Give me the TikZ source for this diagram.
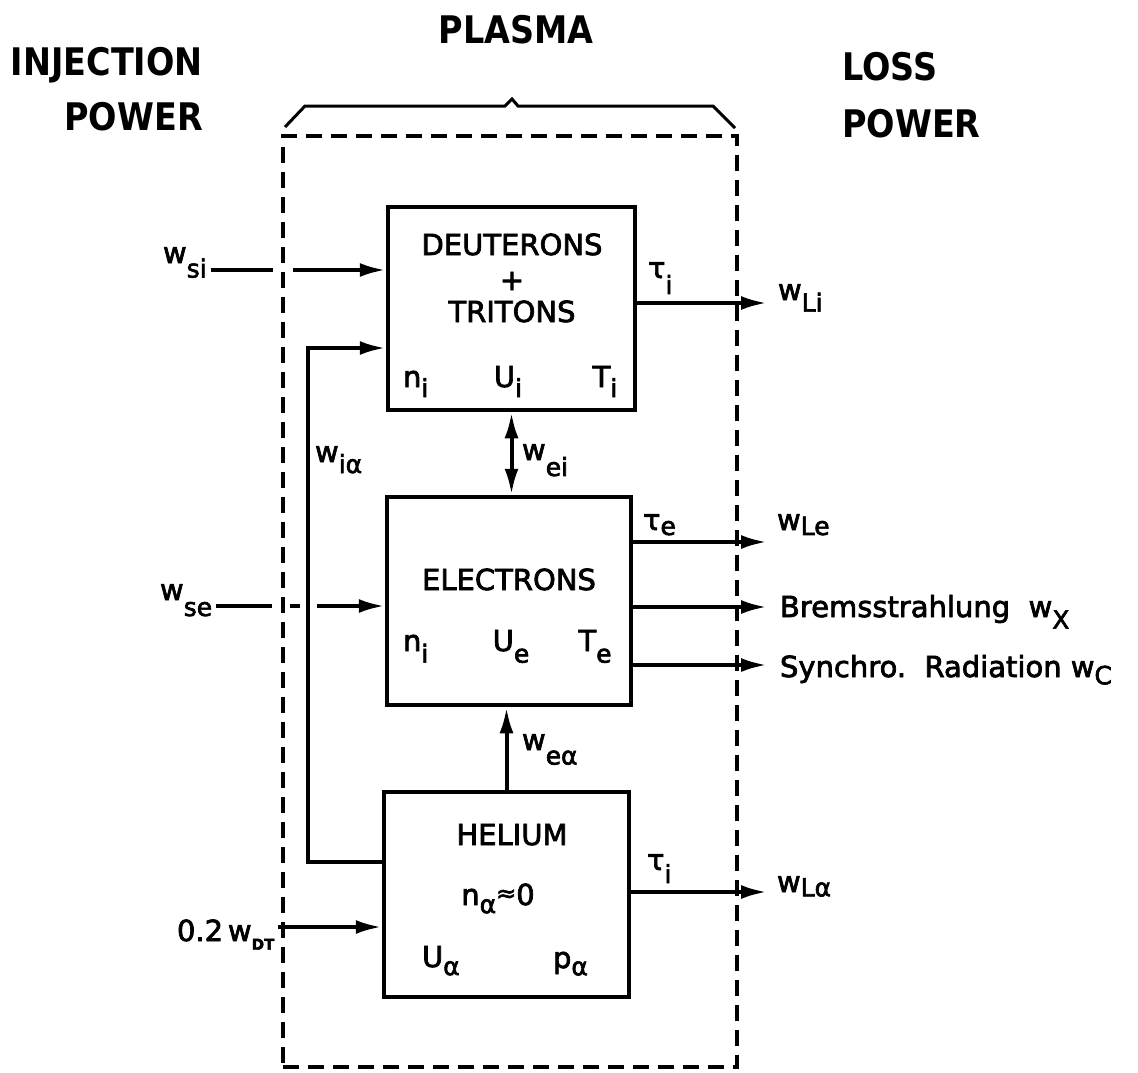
\documentclass[tikz,border=0pt]{standalone}
\usepackage{fontspec}
\setmainfont{DejaVu Sans}
\newfontfamily\txtfont[FakeBold=2.5]{DejaVu Sans}
\newfontfamily\kopfont[FakeStretch=0.88]{DejaVu Sans}
\usetikzlibrary{arrows.meta}
\newcommand\sbs[2][0.42]{\raisebox{-#1em}{\fontsize{25}{25}\selectfont #2}}
\newcommand\tinysbs[1]{\raisebox{-0.3em}{\fontsize{15}{15}\selectfont\bfseries #1}}

\begin{document}
\begin{tikzpicture}[x=1pt,y=-1pt,
  blok/.style={draw, line width=4.5pt, inner sep=0pt},
  grens/.style={draw, line width=4.5pt, dash pattern=on 16pt off 9pt, inner sep=0pt},
  flow/.style={line width=4pt},
  arr/.style={flow, -{Latex[length=26pt,width=14pt]}},
  darr/.style={flow, {Latex[length=26pt,width=14pt]}-{Latex[length=26pt,width=14pt]}},
  lbl/.style={inner sep=0pt, outer xsep=4pt, outer ysep=0pt, font=\txtfont\fontsize{29}{35}\selectfont},
  kop/.style={inner sep=0pt, font=\kopfont\bfseries\fontsize{38}{44}\selectfont}]
  \useasboundingbox (0,0) rectangle (1138,1072);

  \node[kop, anchor=base east] (inj) at (203,75) {INJECTION};
  \node[kop, anchor=base east] (injpow) at (203,130) {POWER};
  \node[kop, anchor=base] (plas) at (516,43) {PLASMA};
  \node[kop, anchor=base west] (loss) at (842,80) {LOSS};
  \node[kop, anchor=base west] (losspow) at (842,137) {POWER};

  \node[grens, minimum width=454pt, minimum height=931pt] (plasma) at (510,601.5) {};
  \draw[line width=3pt] (285,127) -- (305,106) -- (505,106) -- (512,99) -- (518,106) -- (713,106) -- (735,128);

  \node[blok, minimum width=247pt, minimum height=203pt] (dt) at (511.5,308.5) {};
  \node[blok, minimum width=244pt, minimum height=208pt] (el) at (509,601) {};
  \node[blok, minimum width=245pt, minimum height=205pt] (he) at (506.5,894.5) {};

  \node[lbl, anchor=base] (deut) at (512,255) {DEUTERONS};
  \node[lbl] (plus) at (512,281) {+};
  \node[lbl, anchor=base] (trit) at (512,322) {TRITONS};
  \node[lbl, anchor=base west] (ni) at (399,387) {n\sbs[0.35]{i}};
  \node[lbl, anchor=base] (ui) at (508,387) {U\sbs[0.35]{i}};
  \node[lbl, anchor=base] (ti) at (605,387) {T\sbs[0.35]{i}};

  \node[lbl, anchor=base] (elname) at (509,590) {ELECTRONS};
  \node[lbl, anchor=base west] (ne) at (399,651) {n\sbs[0.4]{i}};
  \node[lbl, anchor=base] (ue) at (511,651) {U\sbs[0.4]{e}};
  \node[lbl, anchor=base] (te) at (595,651) {T\sbs[0.4]{e}};

  \node[lbl, anchor=base] (hename) at (512,845) {HELIUM};
  \node[lbl, anchor=base] (na) at (498,905) {n\sbs[0.28]{α}\raisebox{0.12em}{\fontsize{24}{24}\selectfont ≈}0};
  \node[lbl, anchor=base west] (ua) at (418,967) {U\sbs[0.28]{α}};
  \node[lbl, anchor=base west] (pa) at (549,968) {p\sbs[0.25]{α}};

  \node[lbl, anchor=base west] (wsi) at (159,263) {w\sbs[0.5]{si}};
  \node[lbl, anchor=base west] (wse) at (156,600) {w\sbs[0.55]{se}};
  \node[lbl, anchor=base west] (wdt) at (173,941) {0.2\,w\tinysbs{DT}};
  \node[lbl, anchor=base west] (wia) at (311,462) {w\sbs[0.38]{iα}};
  \node[lbl, anchor=base west] (wei) at (518,460) {w\sbs[0.55]{ei}};
  \node[lbl, anchor=base west] (wea) at (518,750) {w\sbs[0.5]{eα}};

  \node[lbl, anchor=base west] (taui) at (644,278) {τ\sbs[0.55]{i}};
  \node[lbl, anchor=base west] (wli) at (774,300) {w\sbs[0.4]{Li}};
  \node[lbl, anchor=base west] (taue) at (639,530) {τ\sbs[0.17]{e}};
  \node[lbl, anchor=base west] (wle) at (773,530) {w\sbs[0.17]{Le}};
  \node[lbl, anchor=base west] (brems) at (776,617) {Bremsstrahlung\ \ w\sbs[0.4]{X}};
  \node[lbl, anchor=base west] (synch) at (776,677) {Synchro.\ \ Radiation\ w\sbs[0.25]{C}};
  \node[lbl, anchor=base west] (tauh) at (643,870) {τ\sbs[0.45]{i}};
  \node[lbl, anchor=base west] (wla) at (773,892) {w\sbs[0.15]{Lα}};

  \coordinate (siA) at (273,270);
  \coordinate (siB) at (293,270);
  \draw[flow] (wsi.east |- siA) -- (siA);
  \draw[arr] (siB) -- (siB -| dt.west);

  \coordinate (seA) at (272,606);
  \coordinate (seB) at (290,606);
  \coordinate (seC) at (300,606);
  \coordinate (seD) at (317,606);
  \draw[flow] (wse.east |- seA) -- (seA);
  \draw[flow] (seB) -- (seC);
  \draw[arr] (seD) -- (seD -| el.west);

  \coordinate (dtA) at (287,927);
  \draw[arr] (wdt.east |- dtA) -- (dtA -| he.west);

  \coordinate (fbA) at (308,862);
  \coordinate (fbB) at (308,348);
  \draw[arr] (fbA -| he.west) -- (fbA) -- (fbB) -- (fbB -| dt.west);

  \draw[darr] (dt.south) -- (dt.south |- el.north);
  \draw[arr] (he.north) -- (he.north |- el.south);

  \coordinate (li) at (767,303);
  \coordinate (le) at (767,542);
  \coordinate (lx) at (767,607);
  \coordinate (lc) at (767,665);
  \coordinate (la) at (767,892);
  \draw[arr] (dt.east |- li) -- (li);
  \draw[arr] (el.east |- le) -- (le);
  \draw[arr] (el.east |- lx) -- (lx);
  \draw[arr] (el.east |- lc) -- (lc);
  \draw[arr] (he.east |- la) -- (la);
\end{tikzpicture}
\end{document}
